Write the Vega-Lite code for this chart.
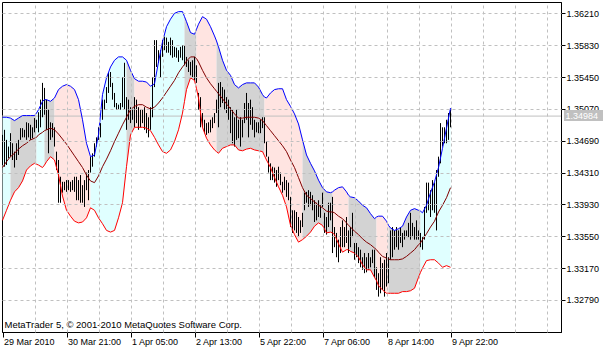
{
"$schema": "https://vega.github.io/schema/vega-lite/v6.json",
"width": 559, "height": 330,
"autosize": {"type": "none"},
"padding": {"left": 2, "top": 2, "right": 49, "bottom": 21},
"background": "white",
"config": {"view": {"stroke": "black", "strokeWidth": 1}},
"resolve": {"axis": {"x": "independent", "y": "independent"}},
"datasets": {
"bars": [
{"t":0,"h":1.3476,"l":1.3440},{"t":1,"h":1.3482,"l":1.3438},{"t":2,"h":1.3470,"l":1.3440},{"t":3,"h":1.3462,"l":1.3448},{"t":4,"h":1.3478,"l":1.3450},{"t":5,"h":1.3466,"l":1.3446},{"t":6,"h":1.3456,"l":1.3437},{"t":7,"h":1.3466,"l":1.3446},{"t":8,"h":1.3470,"l":1.3452},{"t":9,"h":1.3484,"l":1.3470},
{"t":10,"h":1.3484,"l":1.3473},{"t":11,"h":1.3482,"l":1.3473},{"t":12,"h":1.3491,"l":1.3470},{"t":13,"h":1.3490,"l":1.3473},{"t":14,"h":1.3488,"l":1.3470},{"t":15,"h":1.3485,"l":1.3472},{"t":16,"h":1.3496,"l":1.3479},{"t":17,"h":1.3494,"l":1.3484},{"t":18,"h":1.3503,"l":1.3479},{"t":19,"h":1.3518,"l":1.3485},
{"t":20,"h":1.3538,"l":1.3497},{"t":21,"h":1.3532,"l":1.3500},{"t":22,"h":1.3518,"l":1.3482},{"t":23,"h":1.3506,"l":1.3454},{"t":24,"h":1.3491,"l":1.3470},{"t":25,"h":1.3490,"l":1.3473},{"t":26,"h":1.3485,"l":1.3462},{"t":27,"h":1.3456,"l":1.3434},{"t":28,"h":1.3446,"l":1.3395},{"t":29,"h":1.3426,"l":1.3395},
{"t":30,"h":1.3420,"l":1.3407},{"t":31,"h":1.3420,"l":1.3410},{"t":32,"h":1.3422,"l":1.3408},{"t":33,"h":1.3422,"l":1.3410},{"t":34,"h":1.3420,"l":1.3408},{"t":35,"h":1.3422,"l":1.3410},{"t":36,"h":1.3426,"l":1.3408},{"t":37,"h":1.3426,"l":1.3398},{"t":38,"h":1.3422,"l":1.3398},{"t":39,"h":1.3428,"l":1.3395},
{"t":40,"h":1.3416,"l":1.3395},{"t":41,"h":1.3422,"l":1.3390},{"t":42,"h":1.3431,"l":1.3410},{"t":43,"h":1.3434,"l":1.3398},{"t":44,"h":1.3450,"l":1.3431},{"t":45,"h":1.3454,"l":1.3438},{"t":46,"h":1.3466,"l":1.3450},{"t":47,"h":1.3473,"l":1.3462},{"t":48,"h":1.3485,"l":1.3470},{"t":49,"h":1.3490,"l":1.3473},
{"t":50,"h":1.3518,"l":1.3494},{"t":51,"h":1.3518,"l":1.3506},{"t":52,"h":1.3533,"l":1.3514},{"t":53,"h":1.3550,"l":1.3526},{"t":54,"h":1.3551,"l":1.3533},{"t":55,"h":1.3538,"l":1.3518},{"t":56,"h":1.3526,"l":1.3509},{"t":57,"h":1.3514,"l":1.3506},{"t":58,"h":1.3512,"l":1.3506},{"t":59,"h":1.3514,"l":1.3506},
{"t":60,"h":1.3545,"l":1.3509},{"t":61,"h":1.3562,"l":1.3506},{"t":62,"h":1.3521,"l":1.3482},{"t":63,"h":1.3518,"l":1.3494},{"t":64,"h":1.3509,"l":1.3490},{"t":65,"h":1.3506,"l":1.3494},{"t":66,"h":1.3521,"l":1.3485},{"t":67,"h":1.3518,"l":1.3490},{"t":68,"h":1.3509,"l":1.3482},{"t":69,"h":1.3506,"l":1.3485},
{"t":70,"h":1.3506,"l":1.3490},{"t":71,"h":1.3509,"l":1.3482},{"t":72,"h":1.3502,"l":1.3478},{"t":73,"h":1.3497,"l":1.3473},{"t":74,"h":1.3509,"l":1.3482},{"t":75,"h":1.3545,"l":1.3497},{"t":76,"h":1.3589,"l":1.3533},{"t":77,"h":1.3589,"l":1.3557},{"t":78,"h":1.3577,"l":1.3562},{"t":79,"h":1.3577,"l":1.3545},
{"t":80,"h":1.3589,"l":1.3569},{"t":81,"h":1.3593,"l":1.3577},{"t":82,"h":1.3592,"l":1.3574},{"t":83,"h":1.3587,"l":1.3574},{"t":84,"h":1.3592,"l":1.3571},{"t":85,"h":1.3589,"l":1.3568},{"t":86,"h":1.3581,"l":1.3569},{"t":87,"h":1.3580,"l":1.3568},{"t":88,"h":1.3577,"l":1.3563},{"t":89,"h":1.3581,"l":1.3568},
{"t":90,"h":1.3583,"l":1.3565},{"t":91,"h":1.3583,"l":1.3559},{"t":92,"h":1.3569,"l":1.3557},{"t":93,"h":1.3565,"l":1.3551},{"t":94,"h":1.3563,"l":1.3547},{"t":95,"h":1.3565,"l":1.3545},{"t":96,"h":1.3569,"l":1.3541},{"t":97,"h":1.3559,"l":1.3538},{"t":98,"h":1.3526,"l":1.3506},{"t":99,"h":1.3521,"l":1.3485},
{"t":100,"h":1.3502,"l":1.3485},{"t":101,"h":1.3494,"l":1.3478},{"t":102,"h":1.3490,"l":1.3476},{"t":103,"h":1.3491,"l":1.3478},{"t":104,"h":1.3494,"l":1.3479},{"t":105,"h":1.3497,"l":1.3484},{"t":106,"h":1.3502,"l":1.3490},{"t":107,"h":1.3518,"l":1.3502},{"t":108,"h":1.3538,"l":1.3485},{"t":109,"h":1.3539,"l":1.3509},
{"t":110,"h":1.3533,"l":1.3514},{"t":111,"h":1.3530,"l":1.3506},{"t":112,"h":1.3521,"l":1.3502},{"t":113,"h":1.3518,"l":1.3494},{"t":114,"h":1.3509,"l":1.3478},{"t":115,"h":1.3506,"l":1.3466},{"t":116,"h":1.3497,"l":1.3462},{"t":117,"h":1.3506,"l":1.3470},{"t":118,"h":1.3494,"l":1.3472},{"t":119,"h":1.3497,"l":1.3462},
{"t":120,"h":1.3494,"l":1.3473},{"t":121,"h":1.3514,"l":1.3490},{"t":122,"h":1.3526,"l":1.3494},{"t":123,"h":1.3514,"l":1.3473},{"t":124,"h":1.3518,"l":1.3488},{"t":125,"h":1.3509,"l":1.3482},{"t":126,"h":1.3494,"l":1.3473},{"t":127,"h":1.3491,"l":1.3479},{"t":128,"h":1.3491,"l":1.3478},{"t":129,"h":1.3494,"l":1.3478},
{"t":130,"h":1.3497,"l":1.3484},{"t":131,"h":1.3497,"l":1.3466},{"t":132,"h":1.3468,"l":1.3450},{"t":133,"h":1.3450,"l":1.3431},{"t":134,"h":1.3442,"l":1.3422},{"t":135,"h":1.3438,"l":1.3422},{"t":136,"h":1.3437,"l":1.3419},{"t":137,"h":1.3434,"l":1.3414},{"t":138,"h":1.3438,"l":1.3422},{"t":139,"h":1.3431,"l":1.3416},
{"t":140,"h":1.3420,"l":1.3407},{"t":141,"h":1.3426,"l":1.3410},{"t":142,"h":1.3422,"l":1.3402},{"t":143,"h":1.3419,"l":1.3398},{"t":144,"h":1.3402,"l":1.3366},{"t":145,"h":1.3386,"l":1.3359},{"t":146,"h":1.3386,"l":1.3362},{"t":147,"h":1.3384,"l":1.3359},{"t":148,"h":1.3378,"l":1.3354},{"t":149,"h":1.3374,"l":1.3359},
{"t":150,"h":1.3383,"l":1.3366},{"t":151,"h":1.3407,"l":1.3386},{"t":152,"h":1.3408,"l":1.3395},{"t":153,"h":1.3410,"l":1.3390},{"t":154,"h":1.3408,"l":1.3392},{"t":155,"h":1.3404,"l":1.3386},{"t":156,"h":1.3398,"l":1.3372},{"t":157,"h":1.3395,"l":1.3374},{"t":158,"h":1.3398,"l":1.3378},{"t":159,"h":1.3392,"l":1.3377},
{"t":160,"h":1.3407,"l":1.3390},{"t":161,"h":1.3383,"l":1.3359},{"t":162,"h":1.3378,"l":1.3357},{"t":163,"h":1.3395,"l":1.3366},{"t":164,"h":1.3395,"l":1.3374},{"t":165,"h":1.3402,"l":1.3335},{"t":166,"h":1.3366,"l":1.3342},{"t":167,"h":1.3359,"l":1.3330},{"t":168,"h":1.3351,"l":1.3324},{"t":169,"h":1.3366,"l":1.3335},
{"t":170,"h":1.3374,"l":1.3342},{"t":171,"h":1.3366,"l":1.3342},{"t":172,"h":1.3378,"l":1.3347},{"t":173,"h":1.3362,"l":1.3335},{"t":174,"h":1.3366,"l":1.3342},{"t":175,"h":1.3383,"l":1.3354},{"t":176,"h":1.3347,"l":1.3327},{"t":177,"h":1.3347,"l":1.3330},{"t":178,"h":1.3342,"l":1.3323},{"t":179,"h":1.3339,"l":1.3318},
{"t":180,"h":1.3330,"l":1.3315},{"t":181,"h":1.3335,"l":1.3311},{"t":182,"h":1.3330,"l":1.3312},{"t":183,"h":1.3335,"l":1.3315},{"t":184,"h":1.3330,"l":1.3318},{"t":185,"h":1.3339,"l":1.3323},{"t":186,"h":1.3339,"l":1.3306},{"t":187,"h":1.3318,"l":1.3291},{"t":188,"h":1.3311,"l":1.3283},{"t":189,"h":1.3330,"l":1.3287},
{"t":190,"h":1.3323,"l":1.3291},{"t":191,"h":1.3327,"l":1.3283},{"t":192,"h":1.3335,"l":1.3295},{"t":193,"h":1.3330,"l":1.3299},{"t":194,"h":1.3362,"l":1.3327},{"t":195,"h":1.3366,"l":1.3330},{"t":196,"h":1.3362,"l":1.3339},{"t":197,"h":1.3366,"l":1.3342},{"t":198,"h":1.3362,"l":1.3339},{"t":199,"h":1.3366,"l":1.3347},
{"t":200,"h":1.3359,"l":1.3342},{"t":201,"h":1.3362,"l":1.3351},{"t":202,"h":1.3362,"l":1.3354},{"t":203,"h":1.3371,"l":1.3354},{"t":204,"h":1.3383,"l":1.3351},{"t":205,"h":1.3371,"l":1.3354},{"t":206,"h":1.3366,"l":1.3351},{"t":207,"h":1.3374,"l":1.3351},{"t":208,"h":1.3362,"l":1.3351},{"t":209,"h":1.3359,"l":1.3342},
{"t":210,"h":1.3354,"l":1.3339},{"t":211,"h":1.3390,"l":1.3351},{"t":212,"h":1.3419,"l":1.3383},{"t":213,"h":1.3419,"l":1.3386},{"t":214,"h":1.3410,"l":1.3378},{"t":215,"h":1.3422,"l":1.3386},{"t":216,"h":1.3419,"l":1.3383},{"t":217,"h":1.3434,"l":1.3362},{"t":218,"h":1.3450,"l":1.3426},{"t":219,"h":1.3490,"l":1.3442},
{"t":220,"h":1.3485,"l":1.3462},{"t":221,"h":1.3485,"l":1.3466},{"t":222,"h":1.3494,"l":1.3466},{"t":223,"h":1.3502,"l":1.3470},{"t":224,"h":1.3506,"l":1.3485}
],
"bands": [
{"t":0,"u":1.3497,"m":1.3437,"d":1.3374,"s":1,"c":"c"},{"t":2,"u":1.3497,"m":1.3444,"d":1.3386,"s":1,"c":"c"},{"t":4,"u":1.3496,"m":1.3450,"d":1.3398,"s":1,"c":"c"},
{"t":4,"u":1.3496,"m":1.3450,"d":1.3398,"s":2,"c":"g"},{"t":6,"u":1.3493,"m":1.3454,"d":1.3408,"s":2,"c":"g"},{"t":8,"u":1.3496,"m":1.3459,"d":1.3413,"s":2,"c":"g"},{"t":10,"u":1.3499,"m":1.3463,"d":1.3421,"s":2,"c":"g"},{"t":12,"u":1.3499,"m":1.3466,"d":1.3434,"s":2,"c":"g"},{"t":14,"u":1.3499,"m":1.3470,"d":1.3439,"s":2,"c":"g"},{"t":16,"u":1.3499,"m":1.3472,"d":1.3442,"s":2,"c":"g"},{"t":17,"u":1.3502,"m":1.3473,"d":1.3441,"s":2,"c":"g"},
{"t":17,"u":1.3502,"m":1.3473,"d":1.3441,"s":3,"c":"c"},{"t":18,"u":1.3506,"m":1.3476,"d":1.3440,"s":3,"c":"c"},{"t":20,"u":1.3516,"m":1.3479,"d":1.3437,"s":3,"c":"c"},{"t":21,"u":1.3518,"m":1.3481,"d":1.3440,"s":3,"c":"c"},
{"t":21,"u":1.3518,"m":1.3481,"d":1.3440,"s":4,"c":"g"},{"t":22,"u":1.3518,"m":1.3482,"d":1.3444,"s":4,"c":"g"},{"t":24,"u":1.3516,"m":1.3484,"d":1.3450,"s":4,"c":"g"},{"t":26,"u":1.3520,"m":1.3482,"d":1.3446,"s":4,"c":"g"},
{"t":26,"u":1.3520,"m":1.3482,"d":1.3446,"s":5,"c":"p"},{"t":28,"u":1.3530,"m":1.3477,"d":1.3428,"s":5,"c":"p"},{"t":30,"u":1.3534,"m":1.3471,"d":1.3403,"s":5,"c":"p"},{"t":32,"u":1.3536,"m":1.3465,"d":1.3386,"s":5,"c":"p"},{"t":34,"u":1.3534,"m":1.3458,"d":1.3379,"s":5,"c":"p"},{"t":36,"u":1.3530,"m":1.3451,"d":1.3373,"s":5,"c":"p"},{"t":38,"u":1.3518,"m":1.3444,"d":1.3371,"s":5,"c":"p"},{"t":40,"u":1.3494,"m":1.3437,"d":1.3372,"s":5,"c":"p"},{"t":42,"u":1.3466,"m":1.3428,"d":1.3377,"s":5,"c":"p"},{"t":44,"u":1.3450,"m":1.3421,"d":1.3389,"s":5,"c":"p"},
{"t":44,"u":1.3450,"m":1.3421,"d":1.3389,"s":6,"c":"c"},{"t":46,"u":1.3452,"m":1.3419,"d":1.3386,"s":6,"c":"c"},{"t":48,"u":1.3476,"m":1.3427,"d":1.3377,"s":6,"c":"c"},{"t":50,"u":1.3524,"m":1.3438,"d":1.3370,"s":6,"c":"c"},{"t":52,"u":1.3544,"m":1.3447,"d":1.3362,"s":6,"c":"c"},{"t":54,"u":1.3557,"m":1.3457,"d":1.3360,"s":6,"c":"c"},{"t":56,"u":1.3565,"m":1.3468,"d":1.3362,"s":6,"c":"c"},{"t":58,"u":1.3569,"m":1.3478,"d":1.3377,"s":6,"c":"c"},{"t":60,"u":1.3569,"m":1.3488,"d":1.3395,"s":6,"c":"c"},{"t":62,"u":1.3565,"m":1.3497,"d":1.3438,"s":6,"c":"c"},
{"t":62,"u":1.3565,"m":1.3497,"d":1.3438,"s":7,"c":"g"},{"t":64,"u":1.3553,"m":1.3506,"d":1.3476,"s":7,"c":"g"},{"t":66,"u":1.3543,"m":1.3510,"d":1.3485,"s":7,"c":"g"},
{"t":66,"u":1.3543,"m":1.3510,"d":1.3485,"s":8,"c":"p"},{"t":68,"u":1.3540,"m":1.3512,"d":1.3485,"s":8,"c":"p"},{"t":70,"u":1.3540,"m":1.3512,"d":1.3485,"s":8,"c":"p"},{"t":72,"u":1.3539,"m":1.3509,"d":1.3484,"s":8,"c":"p"},{"t":74,"u":1.3534,"m":1.3507,"d":1.3481,"s":8,"c":"p"},
{"t":74,"u":1.3534,"m":1.3507,"d":1.3481,"s":9,"c":"c"},{"t":76,"u":1.3537,"m":1.3509,"d":1.3473,"s":9,"c":"c"},{"t":78,"u":1.3563,"m":1.3514,"d":1.3464,"s":9,"c":"c"},{"t":80,"u":1.3587,"m":1.3520,"d":1.3456,"s":9,"c":"c"},{"t":82,"u":1.3605,"m":1.3527,"d":1.3454,"s":9,"c":"c"},{"t":84,"u":1.3614,"m":1.3534,"d":1.3458,"s":9,"c":"c"},{"t":86,"u":1.3621,"m":1.3541,"d":1.3468,"s":9,"c":"c"},{"t":88,"u":1.3623,"m":1.3550,"d":1.3482,"s":9,"c":"c"},{"t":90,"u":1.3623,"m":1.3557,"d":1.3502,"s":9,"c":"c"},{"t":91,"u":1.3617,"m":1.3560,"d":1.3516,"s":9,"c":"c"},
{"t":91,"u":1.3617,"m":1.3560,"d":1.3516,"s":10,"c":"g"},{"t":92,"u":1.3611,"m":1.3564,"d":1.3530,"s":10,"c":"g"},{"t":94,"u":1.3598,"m":1.3569,"d":1.3544,"s":10,"c":"g"},{"t":96,"u":1.3596,"m":1.3569,"d":1.3541,"s":10,"c":"g"},{"t":97,"u":1.3602,"m":1.3567,"d":1.3531,"s":10,"c":"g"},
{"t":97,"u":1.3602,"m":1.3567,"d":1.3531,"s":11,"c":"p"},{"t":98,"u":1.3608,"m":1.3563,"d":1.3520,"s":11,"c":"p"},{"t":100,"u":1.3617,"m":1.3553,"d":1.3485,"s":11,"c":"p"},{"t":102,"u":1.3614,"m":1.3544,"d":1.3472,"s":11,"c":"p"},{"t":104,"u":1.3605,"m":1.3537,"d":1.3464,"s":11,"c":"p"},{"t":106,"u":1.3594,"m":1.3531,"d":1.3458,"s":11,"c":"p"},{"t":107,"u":1.3588,"m":1.3528,"d":1.3456,"s":11,"c":"p"},
{"t":107,"u":1.3588,"m":1.3528,"d":1.3456,"s":12,"c":"g"},{"t":108,"u":1.3581,"m":1.3525,"d":1.3454,"s":12,"c":"g"},{"t":110,"u":1.3565,"m":1.3519,"d":1.3460,"s":12,"c":"g"},{"t":112,"u":1.3553,"m":1.3513,"d":1.3462,"s":12,"c":"g"},{"t":114,"u":1.3547,"m":1.3507,"d":1.3464,"s":12,"c":"g"},{"t":116,"u":1.3536,"m":1.3501,"d":1.3464,"s":12,"c":"g"},{"t":118,"u":1.3532,"m":1.3496,"d":1.3458,"s":12,"c":"g"},{"t":120,"u":1.3536,"m":1.3496,"d":1.3457,"s":12,"c":"g"},{"t":122,"u":1.3538,"m":1.3497,"d":1.3459,"s":12,"c":"g"},{"t":124,"u":1.3538,"m":1.3497,"d":1.3460,"s":12,"c":"g"},{"t":126,"u":1.3538,"m":1.3497,"d":1.3458,"s":12,"c":"g"},{"t":128,"u":1.3533,"m":1.3496,"d":1.3457,"s":12,"c":"g"},{"t":130,"u":1.3524,"m":1.3493,"d":1.3456,"s":12,"c":"g"},{"t":131,"u":1.3521,"m":1.3490,"d":1.3451,"s":12,"c":"g"},
{"t":131,"u":1.3521,"m":1.3490,"d":1.3451,"s":13,"c":"p"},{"t":132,"u":1.3520,"m":1.3487,"d":1.3446,"s":13,"c":"p"},{"t":134,"u":1.3526,"m":1.3481,"d":1.3437,"s":13,"c":"p"},{"t":136,"u":1.3530,"m":1.3475,"d":1.3425,"s":13,"c":"p"},{"t":138,"u":1.3531,"m":1.3469,"d":1.3414,"s":13,"c":"p"},{"t":140,"u":1.3531,"m":1.3463,"d":1.3404,"s":13,"c":"p"},{"t":142,"u":1.3518,"m":1.3456,"d":1.3390,"s":13,"c":"p"},{"t":144,"u":1.3510,"m":1.3446,"d":1.3368,"s":13,"c":"p"},{"t":146,"u":1.3501,"m":1.3437,"d":1.3357,"s":13,"c":"p"},{"t":148,"u":1.3489,"m":1.3425,"d":1.3348,"s":13,"c":"p"},{"t":150,"u":1.3470,"m":1.3413,"d":1.3351,"s":13,"c":"p"},
{"t":150,"u":1.3470,"m":1.3413,"d":1.3351,"s":14,"c":"g"},{"t":152,"u":1.3452,"m":1.3404,"d":1.3355,"s":14,"c":"g"},{"t":154,"u":1.3442,"m":1.3400,"d":1.3360,"s":14,"c":"g"},{"t":156,"u":1.3433,"m":1.3396,"d":1.3367,"s":14,"c":"g"},{"t":158,"u":1.3422,"m":1.3392,"d":1.3371,"s":14,"c":"g"},{"t":160,"u":1.3413,"m":1.3389,"d":1.3368,"s":14,"c":"g"},{"t":162,"u":1.3408,"m":1.3385,"d":1.3359,"s":14,"c":"g"},{"t":164,"u":1.3407,"m":1.3384,"d":1.3360,"s":14,"c":"g"},{"t":165,"u":1.3408,"m":1.3384,"d":1.3359,"s":14,"c":"g"},
{"t":165,"u":1.3408,"m":1.3384,"d":1.3359,"s":15,"c":"p"},{"t":166,"u":1.3410,"m":1.3383,"d":1.3357,"s":15,"c":"p"},{"t":168,"u":1.3413,"m":1.3379,"d":1.3346,"s":15,"c":"p"},{"t":170,"u":1.3414,"m":1.3376,"d":1.3336,"s":15,"c":"p"},{"t":172,"u":1.3408,"m":1.3371,"d":1.3339,"s":15,"c":"p"},{"t":173,"u":1.3404,"m":1.3368,"d":1.3339,"s":15,"c":"p"},
{"t":173,"u":1.3404,"m":1.3368,"d":1.3339,"s":16,"c":"g"},{"t":174,"u":1.3402,"m":1.3366,"d":1.3337,"s":16,"c":"g"},{"t":176,"u":1.3401,"m":1.3361,"d":1.3335,"s":16,"c":"g"},{"t":178,"u":1.3397,"m":1.3357,"d":1.3330,"s":16,"c":"g"},{"t":180,"u":1.3392,"m":1.3352,"d":1.3321,"s":16,"c":"g"},{"t":182,"u":1.3389,"m":1.3348,"d":1.3315,"s":16,"c":"g"},{"t":184,"u":1.3382,"m":1.3345,"d":1.3315,"s":16,"c":"g"},{"t":186,"u":1.3376,"m":1.3341,"d":1.3306,"s":16,"c":"g"},{"t":187,"u":1.3378,"m":1.3339,"d":1.3302,"s":16,"c":"g"},
{"t":187,"u":1.3378,"m":1.3339,"d":1.3302,"s":17,"c":"p"},{"t":188,"u":1.3379,"m":1.3336,"d":1.3296,"s":17,"c":"p"},{"t":190,"u":1.3379,"m":1.3331,"d":1.3291,"s":17,"c":"p"},{"t":192,"u":1.3373,"m":1.3329,"d":1.3287,"s":17,"c":"p"},{"t":193,"u":1.3368,"m":1.3328,"d":1.3287,"s":17,"c":"p"},
{"t":193,"u":1.3368,"m":1.3328,"d":1.3287,"s":18,"c":"g"},{"t":194,"u":1.3365,"m":1.3327,"d":1.3287,"s":18,"c":"g"},{"t":196,"u":1.3362,"m":1.3327,"d":1.3287,"s":18,"c":"g"},{"t":198,"u":1.3364,"m":1.3327,"d":1.3287,"s":18,"c":"g"},{"t":200,"u":1.3367,"m":1.3328,"d":1.3289,"s":18,"c":"g"},{"t":202,"u":1.3378,"m":1.3331,"d":1.3289,"s":18,"c":"g"},{"t":204,"u":1.3386,"m":1.3335,"d":1.3290,"s":18,"c":"g"},{"t":206,"u":1.3388,"m":1.3339,"d":1.3293,"s":18,"c":"g"},{"t":208,"u":1.3386,"m":1.3345,"d":1.3306,"s":18,"c":"g"},{"t":209,"u":1.3385,"m":1.3347,"d":1.3312,"s":18,"c":"g"},
{"t":209,"u":1.3385,"m":1.3347,"d":1.3312,"s":19,"c":"c"},{"t":210,"u":1.3383,"m":1.3351,"d":1.3317,"s":19,"c":"c"},{"t":212,"u":1.3392,"m":1.3358,"d":1.3326,"s":19,"c":"c"},{"t":214,"u":1.3407,"m":1.3366,"d":1.3327,"s":19,"c":"c"},{"t":216,"u":1.3420,"m":1.3373,"d":1.3327,"s":19,"c":"c"},{"t":218,"u":1.3437,"m":1.3384,"d":1.3323,"s":19,"c":"c"},{"t":220,"u":1.3460,"m":1.3392,"d":1.3318,"s":19,"c":"c"},{"t":222,"u":1.3484,"m":1.3401,"d":1.3320,"s":19,"c":"c"},{"t":224,"u":1.3508,"m":1.3413,"d":1.3318,"s":19,"c":"c"}
]
},
"layer": [
{"data": {"name": "bands"},
 "mark": {"type": "area", "interpolate": "linear"},
 "encoding": {
  "x": {"field": "t", "type": "quantitative", "scale": {"domain": [-0.25, 279.25], "nice": false, "zero": false},
        "axis": {"orient": "top", "values": [16,32,48,64,80,96,112,128,144,160,176,192,208,224,240,256,272], "grid": true, "gridColor": "#C0C0C0", "gridDash": [3,3], "gridWidth": 1, "labels": false, "ticks": false, "domain": false, "title": null, "zindex": 1}},
  "y": {"field": "d", "type": "quantitative", "stack": null, "scale": {"domain": [1.32408, 1.36345], "nice": false, "zero": false},
        "axis": {"orient": "left", "values": [1.3279,1.3317,1.3355,1.3393,1.3431,1.3469,1.3507,1.3545,1.3583,1.3621], "grid": true, "gridColor": "#C0C0C0", "gridDash": [3,3], "gridWidth": 1, "labels": false, "ticks": false, "domain": false, "title": null, "zindex": 1}},
  "y2": {"field": "u"},
  "color": {"field": "c", "type": "nominal", "scale": {"domain": ["c","g","p"], "range": ["#E0FFFF","#D3D3D3","#FFE4E1"]}, "legend": null},
  "detail": {"field": "s", "type": "nominal"}
 }},
{"data": {"values": [{"p": 1.34984}]},
 "mark": {"type": "rule", "color": "#C0C0C0", "strokeWidth": 1},
 "encoding": {"y": {"field": "p", "type": "quantitative", "scale": {"domain": [1.32408, 1.36345], "nice": false, "zero": false}, "axis": null}}},
{"data": {"name": "bars"},
 "mark": {"type": "rule", "color": "black", "strokeWidth": 1},
 "encoding": {
  "x": {"field": "t", "type": "quantitative", "scale": {"domain": [-0.25, 279.25], "nice": false, "zero": false},
        "axis": {"orient": "bottom", "values": [0,32,64,96,128,160,192,224], "grid": false, "tickSize": 5, "tickColor": "black", "domainColor": "black", "labelAlign": "left", "labelBaseline": "top", "labelPadding": 0, "labelOffset": 1, "labelFont": "Liberation Sans", "labelFontSize": 9, "labelColor": "black", "labelFlush": false, "labelOverlap": false, "labelBound": false, "title": null, "zindex": 0,
        "labelExpr": "datum.value==0?'29 Mar 2010':datum.value==32?'30 Mar 21:00':datum.value==64?'1 Apr 05:00':datum.value==96?'2 Apr 13:00':datum.value==128?'5 Apr 22:00':datum.value==160?'7 Apr 06:00':datum.value==192?'8 Apr 14:00':datum.value==224?'9 Apr 22:00':''"}},
  "y": {"field": "h", "type": "quantitative", "scale": {"domain": [1.32408, 1.36345], "nice": false, "zero": false},
        "axis": {"orient": "right", "values": [1.3279,1.3317,1.3355,1.3393,1.3431,1.3469,1.3507,1.3545,1.3583,1.3621], "format": ".5f", "grid": false, "tickSize": 4, "tickColor": "black", "domainColor": "black", "labelPadding": 1, "labelFont": "Liberation Sans", "labelFontSize": 9, "labelColor": "black", "labelFlush": false, "labelOverlap": false, "labelBound": false, "title": null, "zindex": 0}},
  "y2": {"field": "l"}
 }},
{"data": {"name": "bands"},
 "mark": {"type": "line", "color": "#0000FF", "strokeWidth": 1},
 "encoding": {"x": {"field": "t", "type": "quantitative", "scale": {"domain": [-0.25, 279.25], "nice": false, "zero": false}, "axis": null},
              "y": {"field": "u", "type": "quantitative", "scale": {"domain": [1.32408, 1.36345], "nice": false, "zero": false}, "axis": null}}},
{"data": {"name": "bands"},
 "mark": {"type": "line", "color": "#800000", "strokeWidth": 1},
 "encoding": {"x": {"field": "t", "type": "quantitative", "scale": {"domain": [-0.25, 279.25], "nice": false, "zero": false}, "axis": null},
              "y": {"field": "m", "type": "quantitative", "scale": {"domain": [1.32408, 1.36345], "nice": false, "zero": false}, "axis": null}}},
{"data": {"name": "bands"},
 "mark": {"type": "line", "color": "#FF0000", "strokeWidth": 1},
 "encoding": {"x": {"field": "t", "type": "quantitative", "scale": {"domain": [-0.25, 279.25], "nice": false, "zero": false}, "axis": null},
              "y": {"field": "d", "type": "quantitative", "scale": {"domain": [1.32408, 1.36345], "nice": false, "zero": false}, "axis": null}}},
{"data": {"values": [{"p": 1.34984}]},
 "mark": {"type": "rect", "color": "#C0C0C0"},
 "encoding": {"x": {"datum": 280.75, "type": "quantitative", "scale": {"domain": [-0.25, 279.25], "nice": false, "zero": false}, "axis": null},
              "x2": {"datum": 300.25},
              "y": {"datum": 1.35057, "type": "quantitative", "scale": {"domain": [1.32408, 1.36345], "nice": false, "zero": false}, "axis": null},
              "y2": {"datum": 1.34925}}},
{"data": {"values": [{"p": 1.34984, "lab": "1.34984"}]},
 "mark": {"type": "text", "color": "white", "align": "left", "baseline": "middle", "font": "Liberation Sans", "fontSize": 9},
 "encoding": {"x": {"datum": 281.5, "type": "quantitative", "scale": {"domain": [-0.25, 279.25], "nice": false, "zero": false}, "axis": null},
              "y": {"field": "p", "type": "quantitative", "scale": {"domain": [1.32408, 1.36345], "nice": false, "zero": false}, "axis": null},
              "text": {"field": "lab"}}},
{"data": {"values": [{"lab": "MetaTrader 5, © 2001-2010 MetaQuotes Software Corp."}]},
 "mark": {"type": "text", "color": "black", "align": "left", "baseline": "middle", "font": "Liberation Sans", "fontSize": 9.5},
 "encoding": {"x": {"datum": 1, "type": "quantitative", "scale": {"domain": [-0.25, 279.25], "nice": false, "zero": false}, "axis": null},
              "y": {"datum": 1.3249, "type": "quantitative", "scale": {"domain": [1.32408, 1.36345], "nice": false, "zero": false}, "axis": null},
              "text": {"field": "lab"}}}
]
}
